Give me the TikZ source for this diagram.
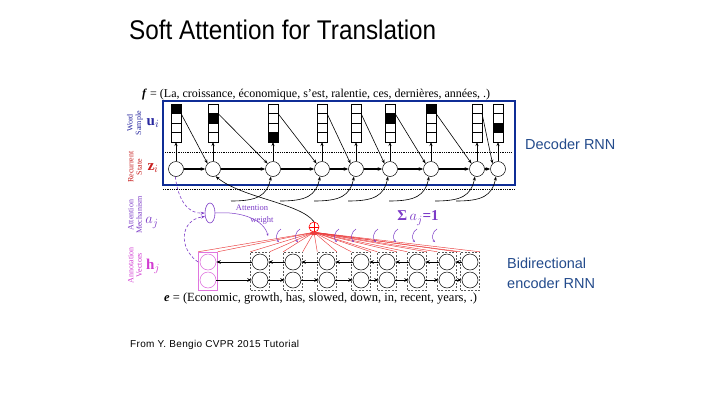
\documentclass[tikz,border=0pt]{standalone}
\usepackage{fontspec}
\usepackage{graphicx}
\setmainfont{Liberation Serif}
\newfontfamily\arial{Liberation Sans}
\newfontfamily\arialsp[LetterSpace=3.5]{Liberation Sans}
\usetikzlibrary{arrows.meta,calc,shapes.geometric}
\definecolor{boxblue}{RGB}{15,45,150}
\definecolor{txtblue}{RGB}{35,75,140}
\definecolor{wsblue}{RGB}{40,40,160}
\definecolor{rsred}{RGB}{200,30,30}
\definecolor{ampurple}{RGB}{125,60,200}
\definecolor{avpink}{RGB}{210,60,210}
\definecolor{fanred}{RGB}{235,60,60}
\begin{document}
\begin{tikzpicture}[x=1pt,y=-1pt,
  cell/.style={draw, line width=0.9pt, minimum width=10pt, minimum height=9.5pt, inner sep=0pt, outer sep=0pt},
  dcirc/.style={circle, draw, line width=0.5pt, minimum size=15pt, inner sep=0pt, fill=white},
  ebox/.style={draw=black!65, dash pattern=on 2pt off 1.5pt, line width=0.5pt, minimum width=19pt, minimum height=38pt, inner sep=0pt},
  ecirc/.style={circle, draw, line width=0.5pt, minimum size=16pt, inner sep=0pt},
  arr/.style={-{Stealth[length=4pt,width=3pt]}, line width=0.6pt},
  harr/.style={-{Stealth[length=4.5pt,width=3.5pt]}, line width=1.3pt},
  earr/.style={-{Stealth[length=4.5pt,width=3.5pt]}, line width=1pt},
  redline/.style={draw=fanred, line width=0.45pt},
  parc/.style={draw=ampurple, line width=0.5pt, -{Stealth[length=2.5pt,width=2pt]}},
  pdash/.style={draw=ampurple, densely dashed, line width=0.6pt, -{Stealth[length=4pt,width=3pt]}},
  lbl/.style={font=\fontsize{8}{8.5}\selectfont, rotate=90, align=center},
  sym/.style={font=\fontsize{15}{15}\selectfont}
]
\fill[white] (0,0) rectangle (720,405);
\useasboundingbox (0,0) rectangle (720,405);

% title and notes
\node[anchor=base west, inner sep=0pt] (title) at (129,39) {\arial\fontsize{27}{27}\selectfont\scalebox{0.9}[1]{Soft Attention for Translation}};
\node[anchor=base west, inner sep=0pt, text=txtblue] (dec) at (525,149) {\arial\fontsize{14.5}{14.5}\selectfont Decoder RNN};
\node[anchor=base west, inner sep=0pt, text=txtblue] (bi1) at (507,268) {\arial\fontsize{14.5}{14.5}\selectfont Bidirectional};
\node[anchor=base west, inner sep=0pt, text=txtblue] (bi2) at (507,288) {\arial\fontsize{14.5}{14.5}\selectfont encoder RNN};
\node[anchor=base west, inner sep=0pt] (src) at (130,347) {\arialsp\fontsize{10}{10}\selectfont From Y. Bengio CVPR 2015 Tutorial};

% sentences
\node[anchor=base west, inner sep=0pt] (fsent) at (142,97) {\fontsize{12}{12}\selectfont\textbf{\textit{f}} = (La, croissance, économique, s'est, ralentie, ces, dernières, années, .)};
\node[anchor=base west, inner sep=0pt] (esent) at (164,301) {\fontsize{12.5}{12.5}\selectfont\textbf{\textit{e}} = (Economic, growth, has, slowed, down, in, recent, years, .)};

% left labels
\node[lbl, text=wsblue] (l1) at (135,123) {Word\\Sample};
\node[lbl, text=rsred] (l2) at (135,167) {Recurrent\\State};
\node[lbl, text=ampurple] (l3) at (135,215) {Attention\\Mechanism};
\node[lbl, text=avpink] (l4) at (135,265) {Annotation\\Vectors};
\node[sym, text=wsblue] (u) at (153,123) {$\mathbf{u}_i$};
\node[sym, text=rsred] (zl) at (153,168) {$\mathbf{z}_i$};
\node[sym, text=ampurple] (al) at (152,223) {$a_j$};
\node[sym, text=avpink] (hl) at (153,266) {$\mathbf{h}_j$};

% decoder
\draw[boxblue, line width=2.6pt] (163,101) rectangle (515,185);
\draw[densely dotted, line width=0.8pt] (165,152) -- (512,152);
\draw[densely dotted, line width=0.8pt] (163,189) -- (515,189);

\foreach \i/\x/\b in {1/176/1, 2/213/2, 3/273/4, 4/322/0, 5/356/0, 6/390/2, 7/431/1, 8/477/0, 9/498/3}{
  \foreach \k in {1,2,3,4}{
    \ifnum\k=\b \def\cf{black}\else\def\cf{white}\fi
    \node[cell, fill=\cf] (c\i-\k) at (\x,{99.25+9.5*\k}) {};
  }
  \node[dcirc] (z\i) at (\x,169) {};
  \draw[arr] (z\i.north) -- (c\i-4.south);
}
\foreach \i in {1,...,8}{
  \pgfmathtruncatemacro{\j}{\i+1}
  \draw[harr] (z\i) -- (z\j);
  \draw[arr] (c\i-1.south east) -- (z\j.north west);
}
% context curves into the decoder states
\foreach \i/\x in {3/273, 4/322, 5/356, 6/390, 7/431, 8/477, 9/498}{
  \draw[arr] ({\x-42},201) .. controls ({\x-16},201) and ({\x-6},196) .. (z\i.-105);
}

% encoder
\foreach \j/\x in {1/208,2/260,3/293,4/327,5/361,6/387,7/417,8/447,9/470}{
  \ifnum\j=1
    \node[ebox, draw=avpink!70, solid] (b\j) at (\x,271) {};
    \node[ecirc, draw=avpink!80] (t\j) at (\x,262) {};
    \node[ecirc, draw=avpink!80] (d\j) at (\x,280) {};
  \else
    \node[ebox] (b\j) at (\x,271) {};
    \node[ecirc] (t\j) at (\x,262) {};
    \node[ecirc] (d\j) at (\x,280) {};
  \fi
}
\foreach \i in {1,...,8}{
  \pgfmathtruncatemacro{\j}{\i+1}
  \draw[earr] (t\j) -- (t\i);
  \draw[earr] (d\i) -- (d\j);
}

% attention
\node[circle, draw=red, line width=0.6pt, minimum size=10pt, inner sep=0pt] (plus) at (314,227) {};
\draw[red, line width=0.6pt] (plus.north) -- (plus.south) (plus.west) -- (plus.east);
\foreach \j in {1,...,9}{
  \draw[redline] (plus.south) -- (b\j.north west);
  \draw[redline] (plus.south) -- (b\j.north east);
}
\fill[fanred] ($(plus.south)+(0,1)$) ellipse (4pt and 1.8pt);
\draw[arr] (plus.north) .. controls (300,203) and (242,198) .. (z2.-70);

\node[ellipse, draw=ampurple, line width=0.6pt, minimum width=10pt, minimum height=20pt, inner sep=0pt] (ell) at (210,213) {};
\node[text=ampurple, font=\fontsize{8.5}{8.5}\selectfont] (aw1) at (252,208) {Attention};
\node[text=ampurple, font=\fontsize{8.5}{8.5}\selectfont] (aw2) at (262,220) {weight};
\node[text=ampurple, font=\fontsize{15}{15}\selectfont\bfseries] (sig) at (418,218) {Σ\,$a_j$=1};

\draw[pdash] (z1.-95) .. controls (178,200) and (188,214) .. (ell.west);
\draw[pdash] (198,262) .. controls (178,248) and (180,220) .. (ell.-145);
\draw[parc] (ell.east) .. controls (242,211) and (264,220) .. (268,236);
\foreach \x in {278,297,336,353,375,395,414,434}{
  \draw[parc] ({\x+3},229) to[bend right=55] ({\x+1},242);
}
\end{tikzpicture}
\end{document}
